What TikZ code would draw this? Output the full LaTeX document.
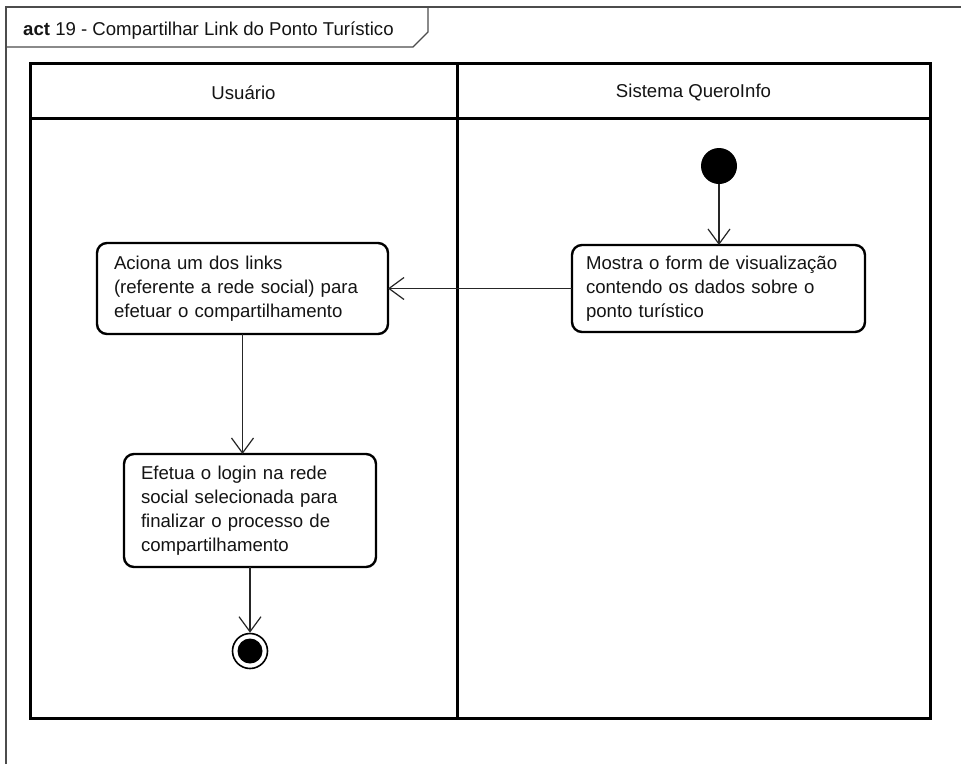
\documentclass[tikz,border=0pt]{standalone}
\usepackage{fontspec}
\setmainfont{Liberation Sans}
\usetikzlibrary{arrows.meta}
\begin{document}
\begin{tikzpicture}[x=1pt,y=-1pt,
  every node/.style={font=\fontsize{18.6pt}{24pt}\selectfont, text=black!92},
  framestyle/.style={draw=black!70, line width=1.2pt},
  lanestyle/.style={draw=black, line width=3pt},
  actbox/.style={draw=black, line width=2.4pt, rounded corners=10pt, fill=white,
     align=left, inner ysep=0pt, outer sep=0pt},
  flow/.style={draw=black!85, line width=1.2pt, -{Straight Barb[length=15pt,width=22pt,line width=1.2pt]}},
  initnode/.style={circle, fill=black, minimum size=36pt, inner sep=0pt},
  finalnode/.style={circle, draw=black, line width=1.6pt, minimum size=35pt, inner sep=0pt}
]
\useasboundingbox (0,0) rectangle (961,764);
\fill[white] (0,0) rectangle (961,764);
% frame
\draw[framestyle] (6,764) -- (6,7) -- (961,7);
\draw[framestyle] (6,47) -- (413,47) -- (428,32) -- (428,7);
\node[anchor=base west, inner sep=0pt] (title) at (23,35) {\textbf{act} 19 - Compartilhar Link do Ponto Turístico};
% swimlanes
\draw[lanestyle] (30,63) rectangle (930,718);
\draw[lanestyle] (30,118) -- (930,118);
\draw[lanestyle] (457,63) -- (457,718);
\node (h1) at (243.5,93) {Usuário};
\node (h2) at (693.5,93) {Sistema QueroInfo};
% nodes
\node[initnode] (init) at (719,166) {};
\node[actbox, minimum width=293pt, minimum height=87pt, text width=265pt, inner xsep=14pt] (mostra) at (718.5,288.5)
  {Mostra o form de visualização\\contendo os dados sobre o\\ponto turístico};
\node[actbox, minimum width=291pt, minimum height=91pt, text width=257pt, inner xsep=17pt] (aciona) at (242.5,288.5)
  {Aciona um dos links\\(referente a rede social) para\\efetuar o compartilhamento};
\node[actbox, minimum width=252pt, minimum height=113pt, text width=218pt, inner xsep=17pt] (efetua) at (250,510.5)
  {Efetua o login na rede\\social selecionada para\\finalizar o processo de\\compartilhamento};
\node[finalnode] (fin) at (250,651) {};
\fill[black] (fin.center) circle (12.5pt);
% flows
\draw[flow] (init) -- (init |- mostra.north);
\draw[flow] (mostra.west) -- (aciona.east);
\draw[flow] (aciona.south) -- (aciona.south |- efetua.north);
\draw[flow] (efetua.south) -- (fin.north);
\end{tikzpicture}
\end{document}
